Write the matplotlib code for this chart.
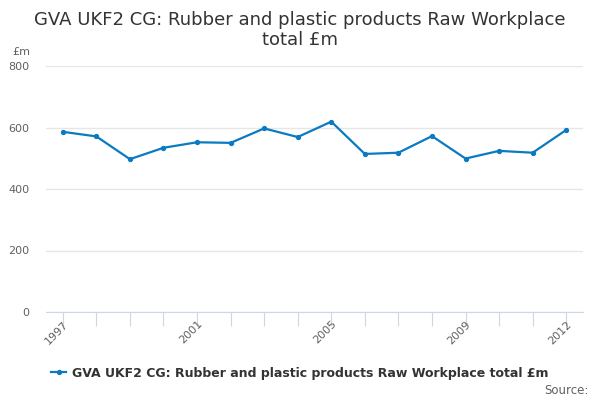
import matplotlib
matplotlib.use("Agg")
import matplotlib.pyplot as plt

years = list(range(1997, 2013))
values = [586, 571, 497, 534, 552, 550, 597, 569, 619, 514, 518, 572, 499, 524, 518, 592]
label_years = [1997, 2001, 2005, 2009, 2012]
series_name = "GVA UKF2 CG: Rubber and plastic products Raw Workplace total £m"

line_col = "#0a7bc1"

fig = plt.figure(figsize=(6, 4), dpi=100)
ax = fig.add_axes([46/600, 1 - 312/400, (583-46)/600, (312-66)/400])

ax.plot(years, values, color=line_col, linewidth=1.6, marker="o", markersize=2.8, label=series_name)

ax.set_xlim(1996.5, 2012.5)
ax.set_ylim(0, 800)
ax.set_yticks([0, 200, 400, 600, 800])
ax.yaxis.grid(True, color="#e6e6e6", linewidth=1)
ax.set_axisbelow(True)
ax.tick_params(axis="y", length=0, labelsize=8, labelcolor="#606060", pad=12)

ax.set_xticks(years)
ax.set_xticklabels([str(y) if y in label_years else "" for y in years], rotation=45,
                   ha="right", rotation_mode="anchor")
ax.tick_params(axis="x", length=10, color="#ccd6eb", labelsize=8, labelcolor="#606060", pad=-5)

for s in ["top", "right", "left"]:
    ax.spines[s].set_visible(False)
ax.spines["bottom"].set_color("#ccd6eb")

fig.text(0.5, 1 - 20/400, "GVA UKF2 CG: Rubber and plastic products Raw Workplace", ha="center",
         va="center", fontsize=13, color="#333333")
fig.text(0.5, 1 - 40/400, "total £m", ha="center", va="center", fontsize=13, color="#333333")
fig.text(12/600, 1 - 52/400, "£m", ha="left", va="center", fontsize=8, color="#606060")

leg = fig.legend(loc="center left", bbox_to_anchor=(40/600, 1 - 373/400), frameon=False,
                 handlelength=1.2, handletextpad=0.5, prop={"size": 9, "weight": "bold"})
for t in leg.get_texts():
    t.set_color("#333333")
fig.text(589/600, 1 - 390/400, "Source:", ha="right", va="center", fontsize=8.5, color="#606060")

fig.savefig("out.png", dpi=100)
